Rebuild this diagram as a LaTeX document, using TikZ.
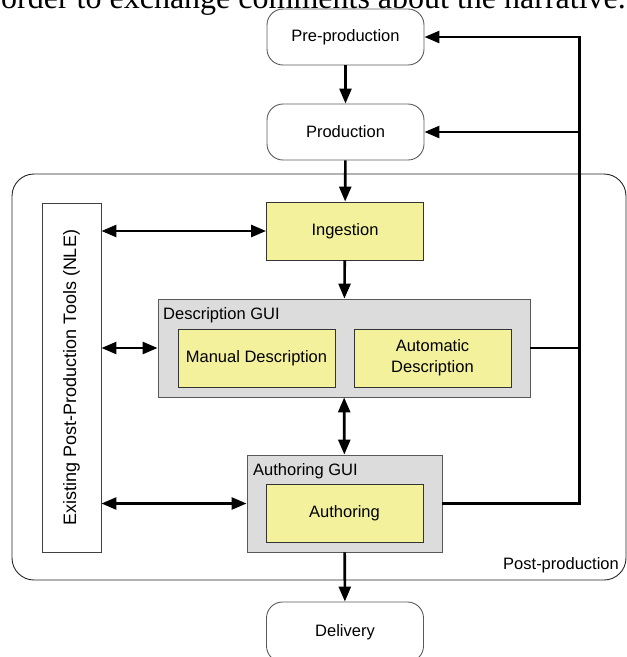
\documentclass[tikz,border=0pt]{standalone}
\usepackage{fontspec}
\setmainfont{Liberation Sans}
\newfontfamily\serifft{Liberation Serif}
\usetikzlibrary{arrows.meta}
\definecolor{yellowc}{HTML}{F3F19C}
\definecolor{grayc}{HTML}{DCDCDC}
\definecolor{edgec}{HTML}{5A5A5A}
\tikzset{
  txt/.style={font=\fontsize{16.5}{18}\selectfont, align=center},
  rbox/.style={txt, draw=edgec, line width=0.9pt, rounded corners=16pt, minimum width=157pt, minimum height=56pt, inner sep=0pt},
  ybox/.style={txt, draw=black!80, fill=yellowc, line width=0.9pt, minimum width=157pt, minimum height=58pt, inner sep=0pt},
  gbox/.style={draw=black!65, fill=grayc, line width=0.9pt, inner sep=0pt},
  wbox/.style={draw=black!75, fill=white, line width=0.9pt, inner sep=0pt},
  conn/.style={line width=2.6pt},
  arr/.style={conn, -{Triangle[length=15pt,width=12pt]}},
  dbl/.style={conn, {Triangle[length=15pt,width=12pt]}-{Triangle[length=15pt,width=12pt]}},
  lbl/.style={font=\fontsize{16.5}{18}\selectfont, inner sep=0pt}
}
\begin{document}
\begin{tikzpicture}[x=1pt,y=-1pt]
\useasboundingbox (0,0) rectangle (627,657);
\clip (0,0) rectangle (627,657);
% cut-off text line from the page
\node[anchor=base west, inner sep=0pt, font=\serifft\fontsize{32}{36}\selectfont] (toptext) at (1,8) {order to exchange comments about the narrative.};
% post-production container
\node[draw=black!85, line width=0.9pt, rounded corners=22pt, minimum width=614pt, minimum height=406pt, inner sep=0pt] (post) at (319,377) {};
\node[lbl, anchor=base east] (postlbl) at (619,569) {Post-production};
% rounded stage boxes
\node[rbox] (pre) at (345.5,37) {Pre-production};
\node[rbox] (prod) at (345.5,132) {Production};
\node[rbox, minimum height=60pt] (del) at (345,632) {Delivery};
% NLE box
\node[wbox, minimum width=59pt, minimum height=349pt] (nle) at (71.5,377.5) {};
\node[lbl, rotate=90, font=\fontsize{18}{20}\selectfont] (nlelbl) at (nle.center) {Existing Post-Production Tools (NLE)};
% ingestion
\node[ybox] (ing) at (345,231) {Ingestion};
% description GUI
\node[gbox, minimum width=372pt, minimum height=98pt] (dgui) at (344,348) {};
\node[lbl, anchor=base west] (dguilbl) at (163,319) {Description GUI};
\node[ybox] (man) at (256.5,358) {Manual Description};
\node[ybox] (auto) at (432.5,358) {Automatic\\[3pt]Description};
% authoring GUI
\node[gbox, minimum width=195pt, minimum height=97pt] (agui) at (344.5,503.5) {};
\node[lbl, anchor=base west] (aguilbl) at (253,475) {Authoring GUI};
\node[ybox] (auth) at (344.5,513) {Authoring};
% main flow
\draw[arr] (pre) -- (prod);
\draw[arr] (prod) -- (ing);
\draw[arr] (ing) -- (dgui);
\draw[dbl] (dgui) -- (agui);
\draw[arr] (agui) -- (del);
% NLE links
\draw[dbl] (nle.east |- ing.west) -- (ing.west);
\draw[dbl] (nle.east |- dgui.west) -- (dgui.west);
\draw[dbl] (nle.east |- agui.west) -- (agui.west);
% feedback
\coordinate (fbx) at (579.5,0);
\draw[conn] (dgui.east) -- (dgui.east -| fbx);
\draw[arr] (agui.east) -- (agui.east -| fbx) -- (fbx |- pre.east) -- (pre.east);
\draw[arr] (fbx |- prod.east) -- (prod.east);
\end{tikzpicture}
\end{document}
